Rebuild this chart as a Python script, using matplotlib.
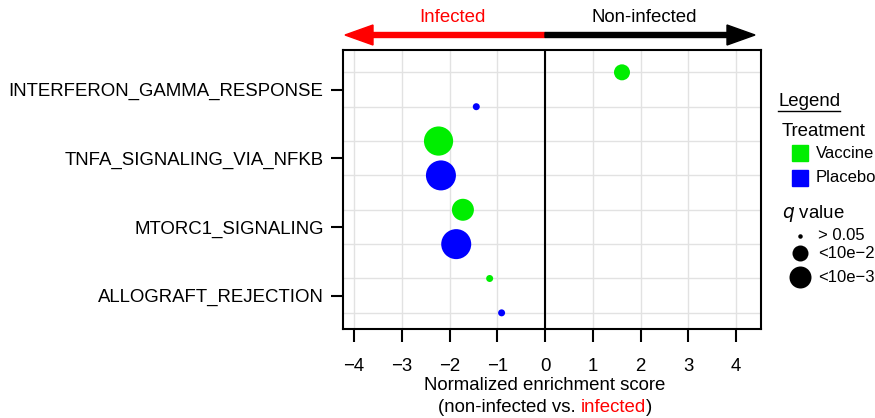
import numpy as np
import matplotlib.pyplot as plt
from matplotlib.patches import FancyArrow

plt.rcParams['font.family'] = ['Liberation Sans', 'DejaVu Sans']

pathways = ["INTERFERON_GAMMA_RESPONSE", "TNFA_SIGNALING_VIA_NFKB",
            "MTORC1_SIGNALING", "ALLOGRAFT_REJECTION"]
# per pathway: vaccine then placebo
nes_vaccine = [1.61, -2.23, -1.72, -1.16]
nes_placebo = [-1.44, -2.18, -1.86, -0.91]
# -log10(q)
nlq_vaccine = [3.5, 6.8, 5.0, 1.25]
nlq_placebo = [1.25, 7.0, 7.0, 1.25]
xticks = [-4, -3, -2, -1, 0, 1, 2, 3, 4]

green = "#00ee00"
blue = "#0000ff"
FS = 13.4

def msize(nlq):
    d_px = 4 * np.asarray(nlq) + 2
    return (d_px * 72 / 100) ** 2

fig = plt.figure(figsize=(8.75, 4.18), dpi=100)
ax = fig.add_axes([343 / 875, 1 - 329 / 418, 418 / 875, 279 / 418])

n = len(pathways)
y_vac = [2 * (n - 1 - i) + 1 for i in range(n)]
y_pla = [2 * (n - 1 - i) for i in range(n)]

for y in range(2 * n):
    ax.axhline(y, color="#e2e2e2", lw=1, zorder=0)
for x in xticks:
    ax.axvline(x, color="#e2e2e2", lw=1, zorder=0)
ax.axvline(0, color="black", lw=1.5, zorder=1)

ax.scatter(nes_vaccine, y_vac, s=msize(nlq_vaccine), color=green, zorder=3, linewidths=0)
ax.scatter(nes_placebo, y_pla, s=msize(nlq_placebo), color=blue, zorder=3, linewidths=0)

ax.set_xlim(-4.23, 4.52)
ax.set_ylim(-0.47, 7.65)
ax.set_xticks(xticks)
ax.set_xticklabels([("\u2212%d" % -v) if v < 0 else str(v) for v in xticks], fontsize=FS)
ax.set_yticks([(a + b) / 2 for a, b in zip(y_vac, y_pla)])
ax.set_yticklabels(pathways, fontsize=FS)
ax.tick_params(axis="both", direction="out", length=9, width=1.5)
ax.tick_params(axis="x", pad=12)
ax.tick_params(axis="y", pad=5)
for s in ax.spines.values():
    s.set_linewidth(1.5)

fig.text(545 / 875, 1 - 385 / 418, "Normalized enrichment score", ha="center", va="center", fontsize=FS)
t1 = fig.text(545 / 875, 1 - 408 / 418, "(non-infected vs. ", ha="right", va="center", fontsize=FS)
fig.canvas.draw()
r = fig.canvas.get_renderer()
# center the two-colour line
bb = t1.get_window_extent(r)
t2 = fig.text(0, 0, "infected", color="red", fontsize=FS, va="center")
t3 = fig.text(0, 0, ")", fontsize=FS, va="center")
w2 = t2.get_window_extent(r).width
w3 = t3.get_window_extent(r).width
total = bb.width + w2 + w3
x0 = 545 - total / 2
t1.set_position(((x0 + bb.width) / 875, 1 - 408 / 418))
t2.set_position(((x0 + bb.width) / 875, 1 - 408 / 418))
t3.set_position(((x0 + bb.width + w2) / 875, 1 - 408 / 418))

# direction arrows on top
ya = 1 - 35 / 418
fig.add_artist(FancyArrow(545 / 875, ya, -(545 - 345) / 875, 0, width=5 / 418,
                          head_width=20 / 418, head_length=28 / 875,
                          length_includes_head=True, color="red", transform=fig.transFigure))
fig.add_artist(FancyArrow(545 / 875, ya, (755 - 545) / 875, 0, width=5 / 418,
                          head_width=20 / 418, head_length=28 / 875,
                          length_includes_head=True, color="black", transform=fig.transFigure))
fig.text(452 / 875, 1 - 18 / 418, "Infected", color="red", ha="center", va="center", fontsize=FS)
fig.text(644 / 875, 1 - 18 / 418, "Non-infected", color="black", ha="center", va="center", fontsize=FS)

# legend
fig.text(778 / 875, 1 - 102 / 418, "Legend", fontsize=FS, va="center")
fig.add_artist(plt.Line2D([778 / 875, 840 / 875], [1 - 111 / 418] * 2, color="black", lw=1))
fig.text(782 / 875, 1 - 131 / 418, "Treatment", fontsize=FS, va="center")
for yy, c, lab in [(153, green, "Vaccine"), (178, blue, "Placebo")]:
    fig.add_artist(plt.Rectangle((792 / 875, 1 - (yy + 8) / 418), 16 / 875, 16 / 418,
                                 color=c, transform=fig.transFigure))
    fig.text(816 / 875, 1 - yy / 418, lab, fontsize=12, va="center")
fig.text(782 / 875, 1 - 213 / 418, r"$q$ value", fontsize=FS, va="center")
for yy, d, lab in [(236, 4.5, "> 0.05"), (253, 16, "<10e\u22122"), (277, 22, "<10e\u22123")]:
    fig.add_artist(plt.Line2D([800 / 875], [1 - yy / 418], marker="o", ms=d * 0.72,
                              color="black", mew=0, transform=fig.transFigure))
    fig.text(818 / 875, 1 - yy / 418, lab, fontsize=12, va="center")

fig.savefig("out.png", dpi=100)
